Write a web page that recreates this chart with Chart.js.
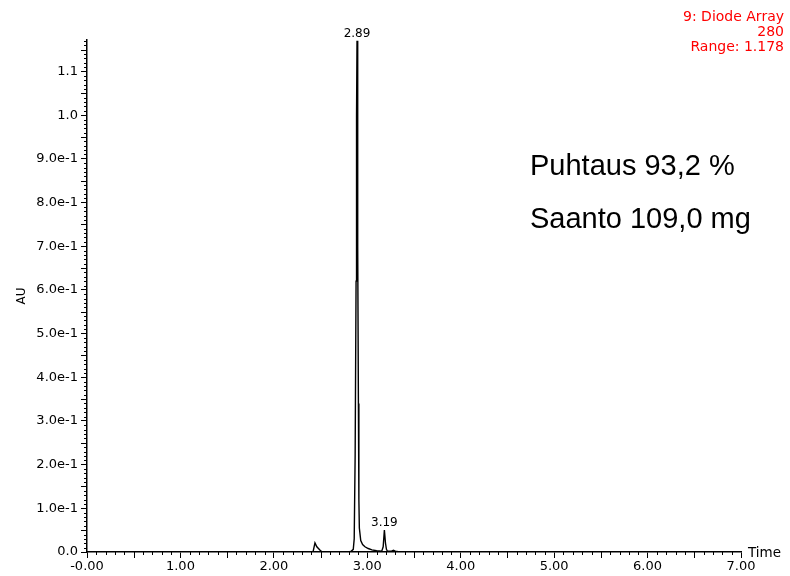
<!DOCTYPE html>
<html>
<head>
<meta charset="utf-8">
<script src="https://cdn.jsdelivr.net/npm/chart.js@4.4.1/dist/chart.umd.min.js"></script>
<style>
  html, body { margin: 0; padding: 0; background: #ffffff; }
  canvas { display: block; }
</style>
</head>
<body>
<canvas id="c" width="790" height="576"></canvas>
<script>
// ---- data ----
const times = [0.00, 2.40, 2.42, 2.44, 2.46, 2.49, 2.51, 2.55, 2.80, 2.83, 2.85, 2.86, 2.87, 2.88, 2.885, 2.89, 2.895, 2.90, 2.905, 2.91, 2.915, 2.93, 2.95, 2.975, 3.01, 3.05, 3.10, 3.155, 3.17, 3.183, 3.195, 3.205, 3.215, 3.26, 3.28, 3.30, 3.35, 7.00];
const absorbance = [0, 0, 0.001, 0.021, 0.012, 0.005, 0.001, 0, 0, 0.002, 0.006, 0.03, 0.22, 0.62, 1.00, 1.170, 1.04, 0.70, 0.34, 0.12, 0.055, 0.026, 0.017, 0.012, 0.008, 0.005, 0.003, 0.002, 0.012, 0.050, 0.02, 0.006, 0.002, 0.002, 0.004, 0.002, 0, 0];

const xTickValues = [0, 1, 2, 3, 4, 5, 6, 7];
const xTickLabels = ['-0.00', '1.00', '2.00', '3.00', '4.00', '5.00', '6.00', '7.00'];
const yTickValues = [0, 0.1, 0.2, 0.3, 0.4, 0.5, 0.6, 0.7, 0.8, 0.9, 1.0, 1.1];
const yTickLabels = ['0.0', '1.0e-1', '2.0e-1', '3.0e-1', '4.0e-1', '5.0e-1', '6.0e-1', '7.0e-1', '8.0e-1', '9.0e-1', '1.0', '1.1'];

const peakLabelTimes = [2.89, 3.19];
const peakLabelTexts = ['2.89', '3.19'];

const headerLines = ['9: Diode Array', '280', 'Range: 1.178'];
const noteLines = ['Puhtaus 93,2 %', 'Saanto 109,0 mg'];
const xAxisName = 'Time';
const yAxisName = 'AU';

// ---- chart ----
const points = times.map((t, i) => ({ x: t, y: absorbance[i] }));
const TICK_FONT = { family: 'DejaVu Sans', size: 13 };

const minorTicks = {
  id: 'minorTicks',
  afterDraw(chart) {
    const ctx = chart.ctx, xs = chart.scales.x, ys = chart.scales.y;
    const a = chart.chartArea;
    ctx.save();
    ctx.strokeStyle = '#000';
    ctx.lineWidth = 1;
    ctx.beginPath();
    for (let i = 1; i <= 117; i++) {
      if (i % 10 === 0) continue;
      const len = (i % 5 === 0) ? 6 : 3;
      const py = Math.round(ys.getPixelForValue(i / 100)) + 0.5;
      ctx.moveTo(a.left - len, py);
      ctx.lineTo(a.left, py);
    }
    for (let i = 1; i < 70; i++) {
      if (i % 10 === 0) continue;
      const len = (i % 5 === 0) ? 6 : 3;
      const px = Math.round(xs.getPixelForValue(i / 10)) + 0.5;
      ctx.moveTo(px, a.bottom);
      ctx.lineTo(px, a.bottom + len);
    }
    ctx.stroke();
    ctx.restore();
  }
};

const annotations = {
  id: 'annotations',
  afterDraw(chart) {
    const ctx = chart.ctx, xs = chart.scales.x, ys = chart.scales.y;
    const a = chart.chartArea;
    ctx.save();
    // peak labels, placed above each apex
    ctx.fillStyle = '#000';
    ctx.font = '12px "DejaVu Sans"';
    ctx.textAlign = 'center';
    ctx.textBaseline = 'middle';
    peakLabelTimes.forEach((t, k) => {
      let best = -1;
      times.forEach((tt, i) => {
        if (Math.abs(tt - t) <= 0.03 && (best < 0 || absorbance[i] > absorbance[best])) best = i;
      });
      const px = xs.getPixelForValue(times[best]);
      const py = ys.getPixelForValue(absorbance[best]);
      ctx.fillText(peakLabelTexts[k], px, py - 7);
    });
    // x axis name at the right end
    ctx.textAlign = 'left';
    ctx.font = '13.5px "DejaVu Sans"';
    ctx.fillText(xAxisName, a.right + 7, a.bottom + 1);
    // red header, top right
    ctx.fillStyle = '#ff0000';
    ctx.textAlign = 'right';
    ctx.textBaseline = 'alphabetic';
    ctx.font = '14px "DejaVu Sans"';
    headerLines.forEach((s, i) => ctx.fillText(s, 784, 21 + i * 15));
    // notes
    ctx.fillStyle = '#000';
    ctx.textAlign = 'left';
    ctx.font = '29px "Liberation Sans", Arial, sans-serif';
    noteLines.forEach((s, i) => ctx.fillText(s, 530, 175 + i * 53));
    ctx.restore();
  }
};

new Chart(document.getElementById('c'), {
  type: 'line',
  data: {
    datasets: [{
      data: points,
      borderColor: '#000',
      borderWidth: 1.4,
      pointRadius: 0,
      tension: 0,
      fill: false
    }]
  },
  options: {
    responsive: false,
    animation: false,
    layout: { padding: { left: 0, top: 40, right: 49, bottom: 0 } },
    plugins: { legend: { display: false }, tooltip: { enabled: false } },
    scales: {
      x: {
        type: 'linear',
        min: 0,
        max: 7,
        afterBuildTicks: s => { s.ticks = xTickValues.map(v => ({ value: v })); },
        afterFit: s => { s.height = 24; },
        ticks: {
          color: '#000',
          font: TICK_FONT,
          padding: 1,
          maxRotation: 0,
          autoSkip: false,
          callback: (v, i) => xTickLabels[i]
        },
        grid: { drawOnChartArea: false, drawTicks: true, tickLength: 6, tickColor: '#000', tickWidth: 1 },
        border: { display: true, color: '#000', width: 1.5 }
      },
      y: {
        type: 'linear',
        min: 0,
        max: 1.172,
        afterBuildTicks: s => { s.ticks = yTickValues.map(v => ({ value: v })); },
        afterFit: s => { s.width = 87; },
        ticks: {
          color: '#000',
          font: TICK_FONT,
          padding: 3,
          autoSkip: false,
          callback: (v, i) => yTickLabels[i]
        },
        title: {
          display: true,
          text: yAxisName,
          color: '#000',
          font: { family: 'DejaVu Sans', size: 12 },
          padding: { top: 15, bottom: 0 }
        },
        grid: { drawOnChartArea: false, drawTicks: true, tickLength: 6, tickColor: '#000', tickWidth: 1 },
        border: { display: true, color: '#000', width: 1.5 }
      }
    }
  },
  plugins: [minorTicks, annotations]
});
</script>
</body>
</html>
